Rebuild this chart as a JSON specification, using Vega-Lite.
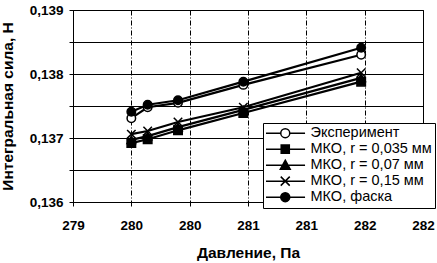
{
  "$schema": "https://vega.github.io/schema/vega-lite/v6.json",
  "autosize": {"type": "none"},
  "width": 350,
  "height": 192,
  "padding": {"left": 73, "top": 10, "right": 14, "bottom": 61},
  "background": "white",
  "config": {
    "font": "Liberation Sans",
    "view": {"stroke": "black", "strokeWidth": 1},
    "axis": {
      "labelFont": "Liberation Sans",
      "titleFont": "Liberation Sans",
      "labelColor": "black",
      "titleColor": "black",
      "domainColor": "black",
      "tickColor": "black",
      "gridColor": "black",
      "gridOpacity": 1,
      "labelFontWeight": "bold",
      "titleFontWeight": "bold",
      "labelFontSize": 13.5,
      "titleFontSize": 15.5
    }
  },
  "data": {
    "values": [
      {"series": "Эксперимент", "p": 279.5, "f": 0.13731},
      {"series": "Эксперимент", "p": 279.64, "f": 0.13748},
      {"series": "Эксперимент", "p": 279.9, "f": 0.13755},
      {"series": "Эксперимент", "p": 280.46, "f": 0.13783},
      {"series": "Эксперимент", "p": 281.47, "f": 0.1383},
      {"series": "МКО, r = 0,035 мм", "p": 279.5, "f": 0.13692},
      {"series": "МКО, r = 0,035 мм", "p": 279.64, "f": 0.13698},
      {"series": "МКО, r = 0,035 мм", "p": 279.9, "f": 0.13712},
      {"series": "МКО, r = 0,035 мм", "p": 280.46, "f": 0.13739},
      {"series": "МКО, r = 0,035 мм", "p": 281.47, "f": 0.13788},
      {"series": "МКО, r = 0,07 мм", "p": 279.5, "f": 0.13697},
      {"series": "МКО, r = 0,07 мм", "p": 279.64, "f": 0.13703},
      {"series": "МКО, r = 0,07 мм", "p": 279.9, "f": 0.13717},
      {"series": "МКО, r = 0,07 мм", "p": 280.46, "f": 0.13744},
      {"series": "МКО, r = 0,07 мм", "p": 281.47, "f": 0.13794},
      {"series": "МКО, r = 0,15 мм", "p": 279.5, "f": 0.13706},
      {"series": "МКО, r = 0,15 мм", "p": 279.64, "f": 0.13711},
      {"series": "МКО, r = 0,15 мм", "p": 279.9, "f": 0.13725},
      {"series": "МКО, r = 0,15 мм", "p": 280.46, "f": 0.13748},
      {"series": "МКО, r = 0,15 мм", "p": 281.47, "f": 0.13802},
      {"series": "МКО, фаска", "p": 279.5, "f": 0.13741},
      {"series": "МКО, фаска", "p": 279.64, "f": 0.13752},
      {"series": "МКО, фаска", "p": 279.9, "f": 0.13759},
      {"series": "МКО, фаска", "p": 280.46, "f": 0.13788},
      {"series": "МКО, фаска", "p": 281.47, "f": 0.13841}
    ]
  },
  "encoding": {
    "x": {
      "field": "p",
      "type": "quantitative",
      "scale": {"domain": [279, 282], "nice": false, "zero": false},
      "axis": {
        "title": "Давление, Па",
        "values": [279, 279.5, 280, 280.5, 281, 281.5, 282],
        "labelExpr": "format(datum.value, '.0f')",
        "labelFlush": false,
        "grid": true,
        "gridDash": [5, 2, 1, 2],
        "tickSize": 4,
        "labelPadding": 12,
        "titlePadding": 14
      }
    },
    "y": {
      "field": "f",
      "type": "quantitative",
      "scale": {"domain": [0.136, 0.139], "nice": false, "zero": false},
      "axis": {
        "title": "Интегральная сила, Н",
        "values": [0.136, 0.1365, 0.137, 0.1375, 0.138, 0.1385, 0.139],
        "labelExpr": "abs(round(datum.value * 10000) % 10) == 5 ? '' : replace(format(datum.value, '.3f'), '.', ',')",
        "grid": true,
        "tickSize": 4,
        "labelPadding": 6,
        "titlePadding": 14
      }
    }
  },
  "resolve": {
    "scale": {"shape": "independent", "fill": "independent"},
    "legend": {"shape": "independent", "fill": "independent"}
  },
  "layer": [
    {
      "mark": {"type": "line", "color": "black", "strokeWidth": 2.2},
      "encoding": {"detail": {"field": "series"}}
    },
    {
      "mark": {"type": "point", "filled": true, "stroke": "black", "strokeWidth": 1.5, "size": 72, "opacity": 1},
      "encoding": {
        "shape": {
          "field": "series",
          "type": "nominal",
          "scale": {
            "domain": ["Эксперимент", "МКО, r = 0,035 мм", "МКО, r = 0,07 мм", "МКО, r = 0,15 мм", "МКО, фаска"],
            "range": ["circle", "square", "triangle-up", "M-1,-1L1,1M-1,1L1,-1", "circle"]
          },
          "legend": null
        },
        "fill": {
          "field": "series",
          "type": "nominal",
          "scale": {
            "domain": ["Эксперимент", "МКО, r = 0,035 мм", "МКО, r = 0,07 мм", "МКО, r = 0,15 мм", "МКО, фаска"],
            "range": ["white", "black", "black", "black", "black"]
          },
          "legend": null
        }
      }
    },
    {
      "mark": {"type": "point", "filled": true, "stroke": "black", "strokeWidth": 1.5, "size": 81, "opacity": 0},
      "encoding": {
        "shape": {
          "field": "series",
          "type": "nominal",
          "scale": {
            "domain": ["Эксперимент", "МКО, r = 0,035 мм", "МКО, r = 0,07 мм", "МКО, r = 0,15 мм", "МКО, фаска"],
            "range": [
              "M-4.4,0H-1M1,0H4.4M-1,0A1,1 0 1,1 1,0A1,1 0 1,1 -1,0Z",
              "M-4.4,0H4.4M-0.9,-0.9H0.9V0.9H-0.9Z",
              "M-4.4,0H4.4M0,-1.1L1.1,0.9H-1.1Z",
              "M-4.4,0H4.4M-1,-1L1,1M-1,1L1,-1",
              "M-4.4,0H4.4M-1,0A1,1 0 1,1 1,0A1,1 0 1,1 -1,0Z"
            ]
          },
          "legend": {
            "title": null,
            "orient": "none",
            "legendX": 190,
            "legendY": 113,
            "fillColor": "white",
            "strokeColor": "black",
            "padding": 3,
            "cornerRadius": 0,
            "symbolSize": 81,
            "symbolOpacity": 1,
            "symbolOffset": 12,
            "labelOffset": 18,
            "labelFont": "Liberation Sans",
            "labelFontSize": 14.5,
            "labelColor": "black",
            "rowPadding": 0,
            "clipHeight": 14.3,
            "encode": {
              "symbols": {
                "stroke": {"value": "black"},
                "strokeWidth": {"value": 1.5},
                "opacity": {"value": 1}
              }
            }
          }
        },
        "fill": {
          "field": "series",
          "type": "nominal",
          "scale": {
            "domain": ["Эксперимент", "МКО, r = 0,035 мм", "МКО, r = 0,07 мм", "МКО, r = 0,15 мм", "МКО, фаска"],
            "range": ["white", "black", "black", "black", "black"]
          },
          "legend": {
            "title": null,
            "orient": "none",
            "legendX": 190,
            "legendY": 113,
            "fillColor": "white",
            "strokeColor": "black",
            "padding": 3,
            "cornerRadius": 0,
            "symbolSize": 81,
            "symbolOpacity": 1,
            "symbolOffset": 12,
            "labelOffset": 18,
            "labelFont": "Liberation Sans",
            "labelFontSize": 14.5,
            "labelColor": "black",
            "rowPadding": 0,
            "clipHeight": 14.3,
            "encode": {
              "symbols": {
                "stroke": {"value": "black"},
                "strokeWidth": {"value": 1.5},
                "opacity": {"value": 1}
              }
            }
          }
        }
      }
    }
  ]
}
